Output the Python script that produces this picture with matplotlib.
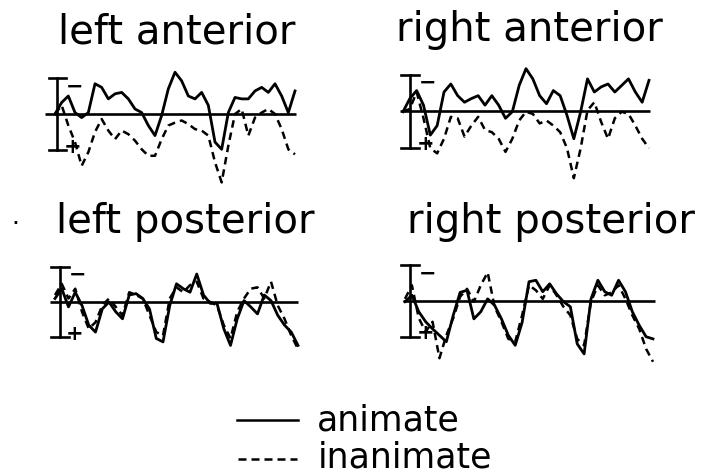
import matplotlib
matplotlib.use("Agg")
import matplotlib.pyplot as plt
from matplotlib.lines import Line2D

# ---- data -------------------------------------------------------------
# time after stimulus onset (ms)
time_ms = [0, 25, 50, 75, 100, 125, 150, 175, 200, 225, 250, 275, 300,
           325, 350, 375, 400, 425, 450, 475, 500, 525, 550, 575, 600,
           625, 650, 675, 700, 725, 750, 775, 800, 825, 850, 875, 900]

# mean amplitude (microvolts), negative plotted up
left_anterior_animate = [0, -1.6, -2.5, -0.2, 0.5, -0.2, -4.2, -3.7, -2.1, -2.8,
                         -3.0, -2.1, -0.7, -0.2, 1.6, 3.0, 0.2, -3.5, -5.8, -4.6,
                         -2.5, -2.1, -3.0, -1.2, 3.9, 4.9, -0.2, -2.3, -2.1, -2.1,
                         -3.2, -3.7, -3.0, -4.2, -2.5, -0.2, -3.2]
left_anterior_inanimate = [0, -1.2, 1.6, 3.9, 7.2, 5.3, 2.5, 0.7, 2.3, 3.5,
                           2.3, 2.8, 3.7, 4.9, 5.8, 5.8, 3.5, 1.6, 1.2, 0.9,
                           1.4, 2.1, 2.3, 3.0, 6.7, 9.5, 4.4, 0.0, -0.7, 3.0,
                           0.5, -0.2, -0.7, 0.0, 2.1, 4.9, 5.6]

right_anterior_animate = [0.1, -1.7, -2.8, -0.8, 3.3, 2.0, -2.6, -3.7, -2.1, -1.2,
                          -1.7, -2.1, -0.8, -2.1, -0.8, 1.0, 0.1, -3.5, -5.8, -4.4,
                          -2.1, -1.0, -2.8, -2.1, 0.6, 3.8, 0.1, -4.4, -2.6, -3.3,
                          -3.7, -2.6, -3.5, -4.4, -2.6, -1.2, -4.2]
right_anterior_inanimate = [0.1, -0.3, -2.6, 1.0, 5.1, 5.8, 3.8, 0.8, 1.0, 3.5,
                            2.0, 0.8, 2.6, 2.9, 3.8, 5.6, 3.8, 1.3, 0.1, 0.4,
                            1.7, 1.3, 2.0, 2.9, 5.1, 9.2, 5.1, -0.1, -1.2, 1.5,
                            3.8, 1.0, 0.1, 0.4, 2.0, 3.8, 5.1]

left_posterior_animate = [-0.5, -1.9, 0.7, -1.4, 0.5, 3.3, 4.3, 1.0, 0.0, 1.4,
                          2.4, -1.0, -1.2, -0.5, 1.0, 5.2, 5.7, 0.5, -2.6, -1.9,
                          -1.4, -4.0, -1.0, 0.2, 0.2, 3.8, 6.2, 2.4, -0.2, 0.7,
                          1.7, -1.0, -0.2, 1.9, 3.3, 4.3, 6.2]
left_posterior_inanimate = [-1.0, -2.6, -0.5, -1.9, 1.4, 3.8, 2.9, 0.5, -0.5, 0.7,
                            1.9, -1.4, -1.0, -0.5, 1.9, 4.3, 4.8, -0.5, -2.1, -1.4,
                            -2.4, -2.9, -0.5, 0.0, 0.5, 3.3, 5.2, 1.4, -0.5, -1.9,
                            -2.1, -0.5, -2.9, 0.5, 2.4, 4.8, 6.7]

right_posterior_animate = [0.1, -0.8, 1.5, 2.9, 3.9, 4.8, 5.7, 2.0, -1.2, -1.5,
                           2.5, 1.5, -0.3, 0.6, 2.5, 4.8, 6.2, 3.0, -2.7, -2.9,
                           -1.3, -2.4, -1.0, 0.1, 0.8, 6.0, 7.4, -0.3, -2.9, -1.3,
                           -0.8, -2.9, -1.3, 1.5, 3.4, 5.0, 5.3]
right_posterior_inanimate = [-0.3, -2.2, 2.4, 4.3, 2.9, 8.0, 4.8, 2.4, -0.6, -1.7,
                             0.1, -2.2, -4.0, 0.8, 2.9, 5.3, 5.7, 2.0, -2.2, -1.5,
                             -0.3, -2.2, -0.8, 0.8, 2.0, 5.3, 6.2, 0.1, -2.2, -0.8,
                             -1.2, -2.2, -0.3, 2.0, 3.9, 6.7, 8.5]

panel_titles = ["left anterior", "right anterior", "left posterior", "right posterior"]
legend_labels = ["animate", "inanimate"]
scale_uv = 5  # half-height of the calibration bar (microvolts)

# ---- layout -----------------------------------------------------------
W, H = 702, 477
fig = plt.figure(figsize=(W / 100, H / 100), dpi=100)
fig.patch.set_facecolor("white")

T_MIN, T_MAX = -60, 930
V_TOP, V_BOT = -9, 12


def place_axes(x0, x900, y_base, px_per_uv):
    """Create an axes whose t=0 / t=900 / 0 uV land on the given pixels."""
    px_per_ms = (x900 - x0) / 900.0
    left = x0 + T_MIN * px_per_ms
    width = (T_MAX - T_MIN) * px_per_ms
    top = y_base + V_TOP * px_per_uv
    height = (V_BOT - V_TOP) * px_per_uv
    ax = fig.add_axes([left / W, 1 - (top + height) / H, width / W, height / H])
    ax.set_xlim(T_MIN, T_MAX)
    ax.set_ylim(V_BOT, V_TOP)  # negative up
    ax.axis("off")
    return ax


panels = [
    dict(geom=(55, 295, 115, 7.2), base=(-37, 904), bar_t=8,
         data=(left_anterior_animate, left_anterior_inanimate),
         title=(177, 43)),
    dict(geom=(403, 649, 112, 7.3), base=(-12, 905), bar_t=26,
         data=(right_anterior_animate, right_anterior_inanimate),
         title=(529, 41)),
    dict(geom=(55, 298, 303, 7.0), base=(-18, 900), bar_t=18,
         data=(left_posterior_animate, left_posterior_inanimate),
         title=(185, 233)),
    dict(geom=(405, 653, 302, 7.15), base=(-8, 908), bar_t=18,
         data=(right_posterior_animate, right_posterior_inanimate),
         title=(551, 233)),
]

for p, name in zip(panels, panel_titles):
    ax = place_axes(*p["geom"])
    animate, inanimate = p["data"]

    # baseline
    ax.plot(p["base"], [0, 0], color="black", lw=1.9, solid_capstyle="butt",
            clip_on=False)

    # calibration bar (negative at top)
    bt = p["bar_t"]
    ax.plot([bt, bt], [-scale_uv, scale_uv], color="black", lw=1.9, clip_on=False)
    ax.plot([bt - 32, bt + 32], [-scale_uv, -scale_uv], color="black", lw=1.9,
            clip_on=False)
    ax.plot([bt - 32, bt + 32], [scale_uv, scale_uv], color="black", lw=1.9,
            clip_on=False)
    ax.text(bt + 64, -scale_uv + 1.0, "\u2212", fontsize=15, ha="center",
            va="center", color="black", fontweight="bold")
    ax.text(bt + 56, scale_uv - 0.6, "+", fontsize=15, ha="center",
            va="center", color="black", fontweight="bold")

    # waveforms
    ax.plot(time_ms, inanimate, color="black", lw=1.8,
            linestyle=(0, (3.0, 2.0)), clip_on=False)
    ax.plot(time_ms, animate, color="black", lw=2.0, clip_on=False)

    tx, ty = p["title"]
    fig.text(tx / W, 1 - ty / H, name, fontsize=29, ha="center",
             va="baseline", color="black")

# stray mark left of the lower-left title
fig.text(15 / W, 1 - 224 / H, "\u00b7", fontsize=18, ha="center",
         va="center", color="black")

# legend
fig.add_artist(Line2D([237 / W, 298 / W], [1 - 421 / H] * 2, color="black",
                      lw=1.8))
fig.add_artist(Line2D([238 / W, 297 / W], [1 - 460 / H] * 2, color="black",
                      lw=1.8, linestyle=(0, (3.2, 2.0))))
fig.text(317 / W, 1 - 431 / H, legend_labels[0], fontsize=25,
         ha="left", va="baseline", color="black")
fig.text(318 / W, 1 - 468 / H, legend_labels[1], fontsize=25,
         ha="left", va="baseline", color="black")

fig.savefig("out.png", dpi=100, facecolor="white")
